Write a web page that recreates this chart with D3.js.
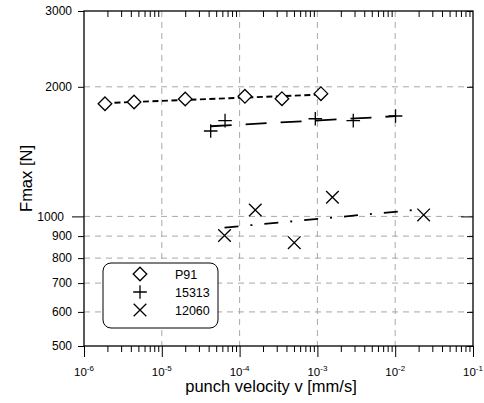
<!DOCTYPE html>
<html>
<head>
<meta charset="utf-8">
<script src="https://cdn.jsdelivr.net/npm/d3@7"></script>
<style>
  body { margin: 0; background: #fff; }
  svg { font-family: "Liberation Sans", Arial, sans-serif; }
</style>
</head>
<body>
<svg id="chart" width="484" height="403"></svg>
<script>
// data
const p91V = [1.86e-6, 4.4e-6, 2.0e-5, 1.17e-4, 3.5e-4, 1.11e-3];
const p91F = [1827, 1844, 1874, 1901, 1877, 1928];
const s15313V = [4.25e-5, 6.5e-5, 9.4e-4, 2.89e-3, 1.01e-2];
const s15313F = [1579, 1669, 1686, 1669, 1711];
const s12060V = [6.4e-5, 1.59e-4, 5.04e-4, 1.56e-3, 2.32e-2];
const s12060F = [903, 1035, 869, 1108, 1008];

const seriesNames = ['P91', '15313', '12060'];
const xMajor = [1e-6, 1e-5, 1e-4, 1e-3, 1e-2, 1e-1];
const yTicks = [500, 600, 700, 800, 900, 1000, 2000, 3000];
const yGrid = [600, 700, 800, 900, 1000, 2000];

const margin = { top: 11, right: 11, bottom: 57, left: 84 },
  width = 484,
  height = 403;

var svg = d3.select('#chart');

var x = d3.scaleLog().domain([1e-6, 1e-1]).range([margin.left, width - margin.right]);
var y = d3.scaleLog().domain([500, 3000]).range([height - margin.bottom, margin.top]);

// minor decade ticks 2..9
var xMinor = [];
xMajor.slice(0, -1).forEach(function (d) {
  for (let k = 2; k <= 9; k++) xMinor.push(d * k);
});

// grid
var grid = svg.append('g').attr('class', 'grid')
  .attr('stroke', '#a8a8a8').attr('stroke-width', 1).attr('stroke-dasharray', '6,5');
grid.selectAll('line.v').data(xMajor.slice(1, -1)).enter().append('line')
  .attr('x1', d => x(d)).attr('x2', d => x(d))
  .attr('y1', y(3000)).attr('y2', y(500));
grid.selectAll('line.h').data(yGrid).enter().append('line')
  .attr('x1', x(1e-6)).attr('x2', x(1e-1))
  .attr('y1', d => y(d)).attr('y2', d => y(d));

// axes
function styleAxis(g) {
  g.select('.domain').remove();
  g.selectAll('.tick line').attr('stroke', '#000').attr('stroke-width', 1);
}

var yBottom = y(500), yTop = y(3000);

svg.append('g').attr('transform', 'translate(0,' + yBottom + ')')
  .call(d3.axisBottom(x).tickValues(xMinor).tickSize(6).tickFormat(''))
  .call(styleAxis);
svg.append('g').attr('transform', 'translate(0,' + yBottom + ')')
  .call(d3.axisBottom(x).tickValues(xMajor).tickSize(11).tickFormat(''))
  .call(styleAxis);
svg.append('g').attr('transform', 'translate(0,' + yTop + ')')
  .call(d3.axisTop(x).tickValues(xMinor).tickSize(-6).tickFormat(''))
  .call(styleAxis);

svg.append('g').attr('transform', 'translate(' + x(1e-6) + ',0)')
  .call(d3.axisLeft(y).tickValues(yTicks).tickSize(6).tickPadding(6)
    .tickFormat(d3.format('d')))
  .call(styleAxis)
  .call(g => g.selectAll('.tick').filter(d => d === 1000).select('line').attr('x2', -12))
  .call(g => g.selectAll('.tick').filter(d => d === 1000).select('text').attr('x', -20))
  .call(g => g.selectAll('.tick text').attr('font-size', 12).attr('fill', '#000')
    .attr('font-family', '"Liberation Sans", Arial, sans-serif'));
svg.append('g').attr('transform', 'translate(' + x(1e-1) + ',0)')
  .call(d3.axisRight(y).tickValues(yTicks).tickSize(-6).tickFormat(''))
  .call(styleAxis)
  .call(g => g.selectAll('.tick').filter(d => d === 1000).select('line').attr('x2', -12));

// x tick labels with superscript exponent
var xl = svg.append('g').selectAll('text').data(xMajor).enter().append('text')
  .attr('x', d => x(d)).attr('y', yBottom + 30)
  .attr('text-anchor', 'middle').attr('font-size', 11.5);
xl.append('tspan').text('10');
xl.append('tspan').attr('font-size', 8).attr('dy', -5)
  .text(d => '-' + Math.round(-Math.log10(d)));

// frame
svg.append('rect')
  .attr('x', x(1e-6)).attr('y', yTop)
  .attr('width', x(1e-1) - x(1e-6)).attr('height', yBottom - yTop)
  .attr('fill', 'none').attr('stroke', '#000').attr('stroke-width', 1.3);

// labels
svg.append('text').attr('x', 271).attr('y', 392).attr('text-anchor', 'middle')
  .attr('font-size', 16.5).text('punch velocity v [mm/s]');
svg.append('text').attr('transform', 'translate(32,' + ((yTop + yBottom) / 2) + ') rotate(-90)')
  .attr('text-anchor', 'middle').attr('font-size', 16.5).text('Fmax [N]');

// fit lines (least squares in log-log)
function fit(vs, fs) {
  const lx = vs.map(Math.log10), ly = fs.map(Math.log10);
  const mx = d3.mean(lx), my = d3.mean(ly);
  const b = d3.sum(lx, (d, i) => (d - mx) * (ly[i] - my)) / d3.sum(lx, d => (d - mx) * (d - mx));
  const ext = d3.extent(vs);
  return ext.map(v => [v, Math.pow(10, my + b * (Math.log10(v) - mx))]);
}

var series = [
  { name: seriesNames[0], v: p91V, f: p91F, dash: '6,3.5', sym: 'diamond' },
  { name: seriesNames[1], v: s15313V, f: s15313F, dash: '21,14', sym: 'plus' },
  { name: seriesNames[2], v: s12060V, f: s12060F, dash: '14,12,2,12', sym: 'cross' },
];

var line = d3.line().x(d => x(d[0])).y(d => y(d[1]));

svg.append('g').attr('class', 'fits').selectAll('path').data(series).enter().append('path')
  .attr('d', s => line(fit(s.v, s.f)))
  .attr('fill', 'none').attr('stroke', '#000').attr('stroke-width', 1.8)
  .attr('stroke-dasharray', s => s.dash);

function symbolPath(sym, r) {
  if (sym === 'diamond') return 'M0,' + -r + 'L' + r + ',0L0,' + r + 'L' + -r + ',0Z';
  if (sym === 'plus') return 'M' + -r + ',0H' + r + 'M0,' + -r + 'V' + r;
  return 'M' + -r + ',' + -r + 'L' + r + ',' + r + 'M' + r + ',' + -r + 'L' + -r + ',' + r;
}
var symSize = { diamond: 6.8, plus: 6.8, cross: 6.3 };

series.forEach(function (s) {
  svg.append('g').selectAll('path').data(s.v.map((v, i) => [v, s.f[i]])).enter().append('path')
    .attr('transform', d => 'translate(' + x(d[0]) + ',' + y(d[1]) + ')')
    .attr('d', symbolPath(s.sym, symSize[s.sym]))
    .attr('fill', s.sym === 'diamond' ? '#fff' : 'none')
    .attr('stroke', '#000').attr('stroke-width', 1.3);
});

// legend
var legend = svg.append('g').attr('transform', 'translate(103,263)');
legend.append('rect').attr('width', 115).attr('height', 65).attr('rx', 8)
  .attr('fill', '#fff').attr('stroke', '#000').attr('stroke-width', 1);
var li = legend.selectAll('g.item').data(series).enter().append('g')
  .attr('transform', (d, i) => 'translate(0,' + (11 + i * 18) + ')');
li.append('path').attr('transform', 'translate(37,0)')
  .attr('d', d => symbolPath(d.sym, d.sym === 'cross' ? 6.3 : 6.8))
  .attr('fill', 'none').attr('stroke', '#000').attr('stroke-width', 1.3);
li.append('text').attr('x', 72).attr('y', 4.5).attr('font-size', 12.5).text(d => d.name);
</script>
</body>
</html>
